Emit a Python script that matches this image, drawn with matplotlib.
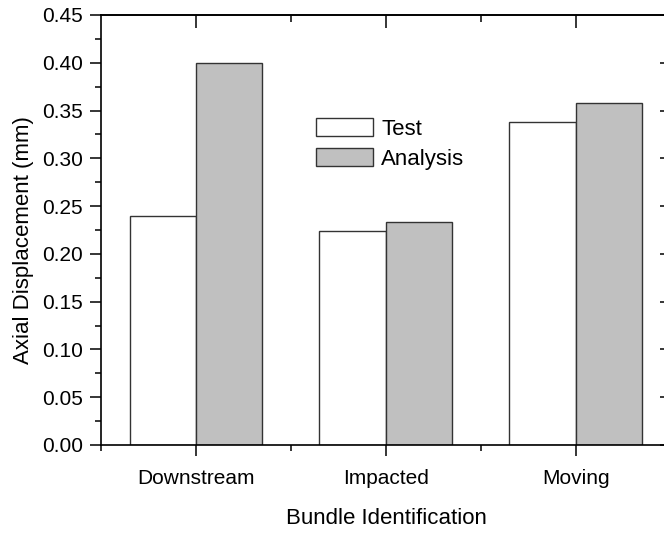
import matplotlib
matplotlib.use("Agg")
import matplotlib.pyplot as plt
import numpy as np
from matplotlib.ticker import MultipleLocator, FixedLocator

# Data
bundles = ["Downstream", "Impacted", "Moving"]
test_vals = [0.240, 0.224, 0.338]
analysis_vals = [0.400, 0.233, 0.358]

plt.rcParams["font.family"] = ["Liberation Sans", "DejaVu Sans"]

W, H = 664, 537
fig = plt.figure(figsize=(W / 100, H / 100), dpi=100)
# axes box in pixels: left 101, right 671 (just past the image edge), top 15, bottom 445
ax = fig.add_axes([101 / W, (H - 445) / H, (671 - 101) / W, (445 - 15) / H])

x = np.arange(len(bundles))
w = 0.35
ax.bar(x - w / 2, test_vals, w, color="white", edgecolor="#333333", linewidth=1.0, label="Test")
ax.bar(x + w / 2, analysis_vals, w, color="#c0c0c0", edgecolor="#333333", linewidth=1.0, label="Analysis")

ax.set_xlim(-0.5, 2.5)
ax.set_ylim(0, 0.45)

# left / bottom ticks go outward
ax.set_xticks(x)
ax.set_xticklabels(bundles)
ax.xaxis.set_minor_locator(FixedLocator([-0.5, 0.5, 1.5, 2.5]))
ax.yaxis.set_major_locator(MultipleLocator(0.05))
ax.yaxis.set_minor_locator(MultipleLocator(0.025))
ax.yaxis.set_major_formatter(matplotlib.ticker.FormatStrFormatter("%.2f"))
ax.tick_params(axis="both", which="major", direction="out", length=8, width=1.1,
               labelsize=15, top=False, right=False)
ax.tick_params(axis="both", which="minor", direction="out", length=4, width=1.1,
               top=False, right=False)
ax.tick_params(axis="x", which="major", pad=9)
ax.tick_params(axis="y", which="major", pad=5)

# top / right ticks point inward
top = ax.secondary_xaxis("top")
top.set_xticks(x)
top.xaxis.set_minor_locator(FixedLocator([0.5, 1.5]))
top.tick_params(which="major", direction="in", length=9, width=1.1, labeltop=False)
top.tick_params(which="minor", direction="in", length=5, width=1.1)
top.spines["top"].set_linewidth(1.2)

right = ax.secondary_yaxis("right")
right.yaxis.set_major_locator(MultipleLocator(0.05))
right.yaxis.set_minor_locator(matplotlib.ticker.NullLocator())
right.tick_params(which="major", direction="in", length=8, width=1.1, labelright=False)

for s in ax.spines.values():
    s.set_linewidth(1.2)

ax.set_xlabel("Bundle Identification", fontsize=16, labelpad=15)
ax.set_ylabel("Axial Displacement (mm)", fontsize=16)
ax.yaxis.set_label_coords(-0.1175, 0.477)

ax.legend(loc="upper left", bbox_to_anchor=(316 / W, 1 - 118 / H), bbox_transform=fig.transFigure,
          frameon=False, fontsize=16, handlelength=2.57, handleheight=0.9,
          handletextpad=0.36, labelspacing=0.35, borderpad=0, borderaxespad=0)

fig.savefig("out.png", dpi=100)
